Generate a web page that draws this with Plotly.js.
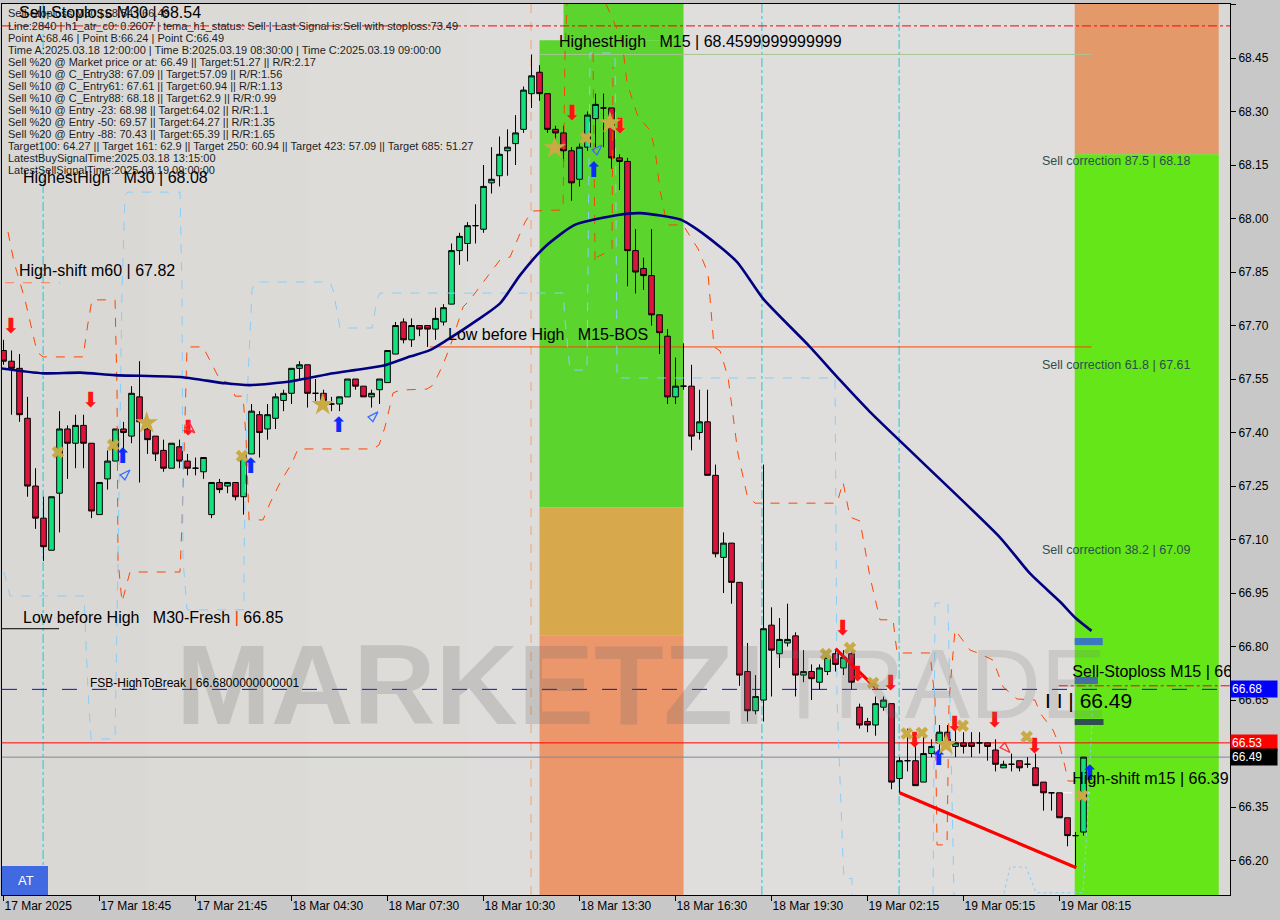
<!DOCTYPE html>
<html><head><meta charset="utf-8">
<script src="https://cdn.plot.ly/plotly-3.0.1.min.js"></script>
<style>html,body{margin:0;padding:0;background:#c8c8c8;overflow:hidden}#chart{width:1280px;height:920px}</style>
</head><body><div id="chart"></div>
<script>
// ---------- candle data (15-minute bars, index 0 = 17 Mar 15:45) ----------
const openP  = [67.63,67.60,67.58,67.44,67.25,67.16,67.07,67.23,67.41,67.37,67.42,67.37,67.17,67.27,67.32,67.41,67.39,67.50,67.41,67.39,
67.35,67.30,67.36,67.32,67.30,67.29,67.17,67.26,67.25,67.26,67.22,67.34,67.45,67.41,67.44,67.49,67.51,67.58,67.59,67.51,
67.51,67.48,67.48,67.50,67.55,67.53,67.50,67.52,67.54,67.62,67.71,67.66,67.70,67.70,67.69,67.71,67.76,67.91,67.93,67.98,
67.97,68.10,68.12,68.19,68.21,68.25,68.35,68.41,68.35,68.25,68.24,68.19,68.11,68.20,68.28,68.31,68.31,68.17,68.16,67.91,
67.86,67.84,67.73,67.67,67.50,67.53,67.53,67.40,67.43,67.28,67.05,67.09,66.98,66.73,66.62,66.65,66.86,66.78,66.81,66.83,
66.72,66.73,66.70,66.73,66.78,66.74,66.78,66.63,66.59,66.58,66.63,66.64,66.43,66.48,66.48,66.42,66.50,66.53,66.56,66.52,
66.53,66.53,66.53,66.53,66.51,66.46,66.47,66.48,66.47,66.46,66.42,66.39,66.39,66.32,66.27,66.28];
const highP  = [67.66,67.63,67.62,67.50,67.30,67.22,67.22,67.46,67.42,67.45,67.45,67.37,67.26,67.35,67.41,67.43,67.53,67.60,67.43,67.39,
67.38,67.37,67.38,67.34,67.33,67.33,67.26,67.27,67.26,67.26,67.34,67.48,67.46,67.48,67.51,67.52,67.58,67.60,67.59,67.55,
67.52,67.50,67.50,67.55,67.55,67.53,67.52,67.55,67.63,67.71,67.72,67.72,67.70,67.70,67.75,67.76,67.93,67.96,67.99,68.04,
68.15,68.20,68.23,68.25,68.29,68.37,68.46,68.43,68.35,68.26,68.26,68.20,68.21,68.30,68.35,68.35,68.31,68.18,68.17,67.97,
67.89,67.97,67.73,67.69,67.61,67.65,67.59,67.52,67.52,67.31,67.12,67.09,66.98,66.81,66.72,67.31,66.91,66.88,66.92,66.84,
66.79,66.75,66.75,66.79,66.79,66.79,66.79,66.64,66.60,66.66,66.66,66.64,66.49,66.57,66.53,66.55,66.54,66.58,66.58,66.57,
66.56,66.56,66.56,66.53,66.54,66.48,66.50,66.48,66.49,66.50,66.42,66.39,66.39,66.32,66.28,66.49];
const lowP   = [67.59,67.45,67.43,67.22,67.13,67.04,67.07,67.12,67.27,67.30,67.30,67.16,67.17,67.24,67.32,67.35,67.37,67.26,67.34,67.32,
67.29,67.30,67.30,67.28,67.28,67.27,67.16,67.23,67.23,67.21,67.17,67.34,67.33,67.38,67.41,67.46,67.48,67.55,67.47,67.48,
67.48,67.46,67.46,67.50,67.52,67.50,67.47,67.48,67.54,67.62,67.65,67.64,67.67,67.64,67.66,67.70,67.76,67.87,67.88,67.93,
67.96,68.07,68.09,68.12,68.15,68.24,68.31,68.33,68.24,68.20,68.16,68.05,68.09,68.19,68.20,68.20,68.14,68.08,67.81,67.79,
67.80,67.70,67.62,67.48,67.48,67.52,67.35,67.38,67.28,67.05,66.95,66.92,66.69,66.59,66.61,66.59,66.66,66.74,66.80,66.66,
66.70,66.65,66.68,66.72,66.73,66.72,66.68,66.57,66.56,66.55,66.62,66.40,66.39,66.45,66.41,66.42,66.49,66.51,66.51,66.49,
66.50,66.49,66.50,66.48,66.45,66.46,66.45,66.45,66.46,66.41,66.34,66.34,66.32,66.24,66.18,66.27];
const closeP = [67.60,67.58,67.45,67.25,67.16,67.08,67.22,67.41,67.37,67.42,67.37,67.18,67.26,67.32,67.41,67.40,67.51,67.43,67.38,67.34,
67.30,67.37,67.32,67.30,67.30,67.33,67.26,67.24,67.26,67.22,67.34,67.46,67.40,67.45,67.50,67.51,67.58,67.59,67.51,67.51,
67.49,67.48,67.50,67.55,67.53,67.50,67.51,67.55,67.63,67.70,67.66,67.70,67.69,67.69,67.72,67.75,67.91,67.95,67.98,67.98,
68.09,68.11,68.18,68.20,68.24,68.36,68.40,68.35,68.25,68.24,68.19,68.10,68.20,68.29,68.32,68.31,68.17,68.16,67.91,67.85,
67.84,67.73,67.68,67.50,67.53,67.53,67.39,67.43,67.28,67.06,67.09,66.98,66.72,66.62,66.66,66.85,66.79,66.82,66.82,66.72,
66.73,66.71,66.74,66.77,66.75,66.77,66.70,66.58,66.58,66.64,66.65,66.42,66.48,66.48,66.41,66.50,66.52,66.56,66.53,66.53,
66.52,66.52,66.53,66.52,66.47,66.47,66.47,66.46,66.47,66.41,66.39,66.39,66.32,66.27,66.27,66.49];

const tickBars   = [0,12,24,36,48,60,72,84,96,108,120,132];
const tickLabels = ["17 Mar 2025","17 Mar 18:45","17 Mar 21:45","18 Mar 04:30","18 Mar 07:30","18 Mar 10:30",
                    "18 Mar 13:30","18 Mar 16:30","18 Mar 19:30","19 Mar 02:15","19 Mar 05:15","19 Mar 08:15"];
const priceTicks = [66.20,66.35,66.50,66.65,66.80,66.95,67.10,67.25,67.40,67.55,67.70,67.85,68.00,68.15,68.30,68.45,68.60];

// ---------- moving average (navy) ----------
const maBar   = [-0.4,4.9,9.6,13.9,22.4,27.7,30.8,35.8,41.2,43.9,47.4,50.8,53.3,55.4,59.2,62.1,64.6,67.7,71.4,76.8,79.6,84.6,87.9,91.7,95.0,100.6,104.6,108.3,114.6,124.6,128.3,132.1,134.0,136.0];
const maPrice = [67.580,67.566,67.568,67.561,67.555,67.538,67.533,67.543,67.566,67.575,67.587,67.613,67.631,67.659,67.715,67.763,67.842,67.921,67.982,68.010,68.015,67.997,67.950,67.878,67.774,67.645,67.546,67.458,67.322,67.105,67.005,66.925,66.880,66.844];

// ---------- orange dashed envelope ----------
const orABar = [0.56,1.31,2.69,4.19,4.94,9.94,10.56,11.06,13.94,14.19,14.31,14.81,15.81,22.06,22.31,22.94,24.94,26.19,27.06,28.31,28.56,28.94,29.94,30.31,30.69,32.44,33.31,34.56,36.06,36.81,46.19,46.94,47.69,48.69,49.56,52.94,53.69,54.81,55.81,57.44,58.31,60.81,62.06,63.31,64.31,65.19,66.06,69.94,70.19,70.44];
const orAPrice = [67.962,67.878,67.772,67.626,67.612,67.612,67.707,67.772,67.772,67.519,67.043,66.925,67.009,67.009,67.146,67.640,67.640,67.584,67.547,67.539,67.528,67.502,67.502,67.388,67.155,67.155,67.202,67.259,67.315,67.354,67.354,67.365,67.416,67.511,67.519,67.522,67.533,67.584,67.640,67.752,67.772,67.847,67.884,67.892,67.945,67.990,68.021,68.024,68.472,68.601];
const orBBar = [75.31,77.31,77.94,79.31,80.81,81.44,82.06,82.94,84.94,86.81,88.06,88.81,89.56,90.56,91.81,92.94,93.94,104.19,104.94,105.81,107.06,108.31,109.56,111.19,111.69,115.81,116.44,116.69,117.94,118.19,118.94,120.81,121.81,123.69,124.94,126.69,128.94,129.56,131.19,132.06,132.69,133.06,134.19];
const orBPrice = [68.601,68.500,68.380,68.285,68.248,68.192,68.080,67.982,67.982,67.915,67.847,67.640,67.629,67.556,67.340,67.225,67.202,67.202,67.261,67.163,67.152,66.995,66.875,66.875,66.782,66.782,66.650,66.244,66.244,66.650,66.847,66.790,66.782,66.762,66.687,66.653,66.650,66.614,66.566,66.519,66.463,66.423,66.423];
const orCBar = [73.69,73.94,74.19,76.06,76.19];
const orCPrice = [68.464,67.875,67.892,67.912,68.425];
const hsM60Bar = [0.19,7.06];

// ---------- light-blue dashed steps ----------
const lbABar = [0.06,0.81,10.06,10.56,10.94,13.94,14.31,14.81,15.19,15.56,22.06,22.31,22.44,22.94,30.06,30.06,30.44,31.06,31.44,40.81,41.19,41.81,42.06,46.06,46.69,47.06,69.94,70.19,70.81,72.94,73.31,76.44,76.69,103.94,104.19,104.94,105.06,106.06,106.06];
const lbAPrice = [67.009,66.942,66.942,66.678,66.541,66.541,67.043,67.800,68.066,68.074,68.074,67.800,67.043,66.903,66.903,67.043,67.491,67.800,67.822,67.822,67.800,67.716,67.693,67.693,67.772,67.791,67.791,67.716,67.575,67.575,68.464,68.464,67.553,67.553,66.650,66.201,66.150,66.150,66.103];
const lbCBar = [116.19,116.44,118.06,118.81];
const lbCPrice = [66.103,66.922,66.922,66.103];
const lbDBar = [125.06,125.81,127.81,129.06,134.94,135.44,136.06,136.06];
const lbDPrice = [66.108,66.182,66.182,66.110,66.110,66.291,66.592,66.633];

// ---------- trend lines (thick red) ----------
const trend1Bar = [112,134.1], trend1Price = [66.39,66.18];
const trend2Bar = [104,109.2], trend2Price = [66.794,66.68];

// ---------- signal markers ----------
const sellBar = [0.94,10.9,23.1,71.1,77.1,104.9,106.8,110.9,113.9,118.9,123.9,128.9];
const sellPrice = [67.693,67.486,67.407,68.290,68.254,66.847,66.718,66.692,66.533,66.578,66.589,66.517];
const buyBar = [14.9,30.9,41.9,73.8,116.9,135.8];
const buyPrice = [67.329,67.301,67.416,68.130,66.482,66.440];
const hollowBuyBar = [15.8,46.8,74.8];
const hollowBuyPrice = [67.295,67.458,68.206];
const hollowSellBar = [23.9,125.8];
const hollowSellPrice = [67.399,66.503];
const starBar = [17.9,39.9,68.9,75.8,117.8];
const starPrice = [67.427,67.478,68.198,68.268,66.525];
const crossBar = [6.8,13.7,29.8,72.8,102.8,105.8,108.7,112.9,114.8,119.9,127.9,134.8];
const crossPrice = [67.345,67.365,67.334,68.226,66.779,66.796,66.698,66.556,66.558,66.578,66.547,66.382];

// ---------- levels ----------
const stoplossM30 = 68.54, highestHighM15 = 68.46, lowBeforeHighBOS = 67.64, highShiftM60 = 67.82;
const lowBeforeHighFresh = 66.85, fsbHighToBreak = 66.68, stoplossM15 = 66.69, highShiftM15 = 66.39;
const sellLevel = 66.53, lastPrice = 66.49;
const zoneLeftBars = [67, 70, 85];
const zoneLeftPrices = [68.50, 67.19, 66.83];
const zoneRightBars = [133.9, 151.9];
const zoneRightSplit = 68.18;
const cyanVerticalBars = [4.95, 94.8, 111.95];
const salmonVerticalBar = 65.94;

// ---------- layout helpers ----------
const Y0 = 66.1035, Y1 = 68.6014, X0 = -0.19, X1 = 153.31;
const PL = 2, PW = 1228, PT = 4, PH = 891;
const px = x => (x - PL) / PW;
const py = y => (PT + PH - y) / PH;
const FONT = 'Liberation Sans, Arial, sans-serif';
const xIdx = openP.map((_, i) => i);

const traces = [];
const dashLine = (xs, ys, color, dash, w) => ({type:'scatter', mode:'lines', x:xs, y:ys, line:{color, width:w||1, dash:dash||'dash'}, hoverinfo:'skip'});
traces.push(dashLine(orABar, orAPrice, '#ff4500', 'dash'));
traces.push(dashLine(orBBar, orBPrice, '#ff4500', 'dash'));
traces.push(dashLine(orCBar, orCPrice, '#ff4500', 'dash'));
traces.push(dashLine(hsM60Bar, [highShiftM60, highShiftM60], '#ff7f50', 'dash'));
traces.push(dashLine(lbABar, lbAPrice, '#87cefa', 'dash'));
traces.push(dashLine(lbCBar, lbCPrice, '#87cefa', 'dash'));
traces.push(dashLine(lbDBar, lbDPrice, '#87cefa', 'dot'));
traces.push({type:'scatter', mode:'lines', x:maBar, y:maPrice, line:{color:'#000080', width:2.6, shape:'spline', smoothing:0.6}, hoverinfo:'skip'});
traces.push({type:'candlestick', x:xIdx, open:openP, high:highP, low:lowP, close:closeP,
  increasing:{line:{color:'#000000', width:1}, fillcolor:'#14e07c'},
  decreasing:{line:{color:'#000000', width:1}, fillcolor:'#dc143c'},
  whiskerwidth:0, hoverinfo:'skip'});
traces.push({type:'scatter', mode:'lines', x:trend1Bar, y:trend1Price, line:{color:'#ff0000', width:3.2}, hoverinfo:'skip'});
traces.push({type:'scatter', mode:'lines', x:trend2Bar, y:trend2Price, line:{color:'#ff0000', width:3.2}, hoverinfo:'skip'});
const glyphs = (xs, ys, ch, color, size) => ({type:'scatter', mode:'text', x:xs, y:ys, text:xs.map(() => ch), textposition:'middle center',
  textfont:{family:'DejaVu Sans, sans-serif', size, color}, cliponaxis:false, hoverinfo:'skip'});
traces.push(glyphs(sellBar, sellPrice, '\u2B07', '#ff1414', 21));
traces.push(glyphs(buyBar, buyPrice, '\u2B06', '#0a2cff', 21));
traces.push({type:'scatter', mode:'markers', x:hollowBuyBar, y:hollowBuyPrice, marker:{symbol:'arrow-open', size:11, angle:45, color:'#3a6fff', line:{width:1.3, color:'#3a6fff'}}, hoverinfo:'skip'});
traces.push({type:'scatter', mode:'markers', x:hollowSellBar, y:hollowSellPrice, marker:{symbol:'arrow-open', size:11, angle:135, color:'#ff3030', line:{width:1.3, color:'#ff3030'}}, hoverinfo:'skip'});
traces.push({type:'scatter', mode:'markers', x:starBar, y:starPrice, marker:{symbol:'star', size:17, color:'#c9aa45', line:{width:0}}, hoverinfo:'skip'});
traces.push({type:'scatter', mode:'markers', x:crossBar, y:crossPrice, marker:{symbol:'x', size:11, color:'#c9aa45', line:{width:0}}, hoverinfo:'skip'});
traces.push({type:'scatter', mode:'text', x:[133.6, 133.6], y:[stoplossM15 + 0.036, highShiftM15 + 0.036],
  text:['Sell-Stoploss M15 | 66.69', 'High-shift m15 | 66.39'], textposition:'middle right',
  textfont:{family:FONT, size:16, color:'#000'}, cliponaxis:true, hoverinfo:'skip'});

const shapes = [];
const rect = (x0, x1, y0, y1, color, layer) => ({type:'rect', xref:'x', yref:'y', x0, x1, y0, y1, fillcolor:color, line:{width:0}, layer:layer||'below'});
// soft background gradient (lighter toward the middle/right)
[18, 38, 58, 78].forEach(b => shapes.push({type:'rect', xref:'x', yref:'paper', x0:b, x1:134, y0:0, y1:1,
  fillcolor:'rgba(255,255,255,0.055)', line:{width:0}, layer:'below'}));
shapes.push(rect(zoneLeftBars[1], zoneLeftBars[2], zoneLeftPrices[0], Y1, '#5bd42e'));
shapes.push(rect(zoneLeftBars[0], zoneLeftBars[2], zoneLeftPrices[1], zoneLeftPrices[0], '#5bd42e'));
shapes.push(rect(zoneLeftBars[0], zoneLeftBars[2], zoneLeftPrices[2], zoneLeftPrices[1], '#d8a84c'));
shapes.push(rect(zoneLeftBars[0], zoneLeftBars[2], Y0, zoneLeftPrices[2], '#ec966b'));
shapes.push(rect(zoneRightBars[0], zoneRightBars[1], zoneRightSplit, Y1, '#e3996a'));
shapes.push(rect(zoneRightBars[0], zoneRightBars[1], Y0, zoneRightSplit, '#64e619'));
const vline = (x, color, dash) => ({type:'line', xref:'x', yref:'y', x0:x, x1:x, y0:Y0, y1:Y1, line:{color, width:1, dash}, layer:'below'});
cyanVerticalBars.forEach(b => shapes.push(vline(b, '#20c8d8', 'dashdot')));
shapes.push(vline(salmonVerticalBar, '#f4a070', 'dash'));
const hline = (x0, x1, y, color, dash, w) => ({type:'line', xref:'x', yref:'y', x0, x1, y0:y, y1:y, line:{color, width:w||1, dash:dash||'solid'}, layer:'below'});
shapes.push(hline(X0, X1, stoplossM30, '#ff0000', 'dashdot'));
shapes.push(hline(67, 136, highestHighM15, '#a6c594'));
shapes.push(hline(53.3, 136, lowBeforeHighBOS, '#ff4500'));
shapes.push(hline(X0, 6.94, lowBeforeHighFresh, '#000000'));
shapes.push(hline(X0, X1, fsbHighToBreak, '#0018d0', 'longdash'));
shapes.push(hline(131.9, X1, stoplossM15, '#ff0000', 'dashdot'));
shapes.push(hline(X0, X1, sellLevel, '#ff0000'));
shapes.push(hline(X0, X1, lastPrice, '#778899'));
shapes.push(hline(132.4, 136, highShiftM15, '#ffffff', 'dash'));
shapes.push(rect(133.9, 137.4, 66.804, 66.824, '#3a78c0', 'above'));
shapes.push(rect(133.9, 136.8, 66.695, 66.715, '#3d6fa8', 'above'));
shapes.push(rect(133.9, 137.5, 66.580, 66.597, '#2f4f4f', 'above'));
shapes.push({type:'rect', xref:'paper', yref:'paper', x0:0, x1:px(48), y0:0, y1:py(866), fillcolor:'#4169e1', line:{width:0}, layer:'above'});

const ann = [];
const txt = (x, y, text, size, color, extra) => Object.assign({xref:'paper', yref:'paper', x:px(x), y:py(y), xanchor:'left', yanchor:'middle',
  text, showarrow:false, font:{family:FONT, size, color}}, extra||{});
const sp = '\u00a0';
// watermark
ann.push(txt(174, 684, '<b>MARKETZI</b>', 114, 'rgba(105,105,105,0.22)'));
ann.push(txt(772, 684, 'TRADE', 98, 'rgba(120,120,120,0.20)'));
// info block
const info = [
 'Line:2840 | h1_atr_c0: 0.2607 | tema_h1_status: Sell | Last Signal is:Sell with stoploss:73.49',
 'Point A:68.46 | Point B:66.24 | Point C:66.49',
 'Time A:2025.03.18 12:00:00 | Time B:2025.03.19 08:30:00 | Time C:2025.03.19 09:00:00',
 'Sell %20 @ Market price or at: 66.49 || Target:51.27 || R/R:2.17',
 'Sell %10 @ C_Entry38: 67.09 || Target:57.09 || R/R:1.56',
 'Sell %10 @ C_Entry61: 67.61 || Target:60.94 || R/R:1.13',
 'Sell %10 @ C_Entry88: 68.18 || Target:62.9 || R/R:0.99',
 'Sell %10 @ Entry -23: 68.98 || Target:64.02 || R/R:1.1',
 'Sell %20 @ Entry -50: 69.57 || Target:64.27 || R/R:1.35',
 'Sell %20 @ Entry -88: 70.43 || Target:65.39 || R/R:1.65',
 'Target100: 64.27 || Target 161: 62.9 || Target 250: 60.94 || Target 423: 57.09 || Target 685: 51.27',
 'LatestBuySignalTime:2025.03.18 13:15:00',
 'LatestSellSignalTime:2025.03.19 09:00:00'];
info.forEach((t, k) => ann.push(txt(6, 25.7 + 12 * k, t, 11, '#1e1e1e')));
ann.push(txt(6, 12.5, 'Sell-Stoploss M30 | 68.54 | 66.49', 11, '#1e1e1e'));
ann.push(txt(17, 13, 'Sell-Stoploss M30 | 68.54', 16, '#000'));
ann.push(txt(21, 177, 'HighestHigh' + sp+sp+sp + 'M30 | 68.08', 16, '#000'));
ann.push(txt(557, 41, 'HighestHigh' + sp+sp+sp + 'M15 | 68.4599999999999', 16, '#000'));
ann.push(txt(17, 270, 'High-shift m60 | 67.82', 16, '#000'));
ann.push(txt(446, 334, 'Low before High' + sp+sp+sp + 'M15-BOS', 16, '#000'));
ann.push(txt(21, 617, 'Low before High' + sp+sp+sp + 'M30-Fresh <span style="color:#ff3300">|</span> 66.85', 16, '#000'));
ann.push(txt(88, 683, 'FSB-HighToBreak | 66.6800000000001', 12, '#000'));
ann.push(txt(1040, 161, 'Sell correction 87.5 | 68.18', 12.5, '#2f4f4f'));
ann.push(txt(1040, 365, 'Sell correction 61.8 | 67.61', 12.5, '#2f4f4f'));
ann.push(txt(1040, 550, 'Sell correction 38.2 | 67.09', 12.5, '#2f4f4f'));
ann.push(txt(1043, 700, 'I I | 66.49', 21, '#000'));
ann.push(txt(16, 880, 'AT', 13, '#ffffff'));
const tag = (y, text, bg) => ({xref:'paper', yref:'y', x:1, y, xanchor:'left', yanchor:'middle', text, showarrow:false,
  bgcolor:bg, borderpad:1, width:44, align:'left', font:{family:FONT, size:12, color:'#ffffff'}});
ann.push(tag(fsbHighToBreak, '66.68', '#0000ff'));
ann.push(tag(sellLevel, '66.53', '#ff0000'));
ann.push(tag(lastPrice, '66.49', '#000000'));

const layout = {
  width:1280, height:920, margin:{l:PL, r:1280 - PL - PW, t:PT, b:920 - PT - PH},
  paper_bgcolor:'#c8c8c8', plot_bgcolor:'#dad8d5', showlegend:false, hovermode:false, dragmode:false,
  boxgap:0.2, boxgroupgap:0.12,
  xaxis:{range:[X0, X1], type:'linear', tickmode:'array', tickvals:tickBars, ticktext:tickLabels,
    ticks:'outside', ticklen:5, tickcolor:'#000', showgrid:false, zeroline:false, showline:true, linecolor:'#000', linewidth:1, mirror:true,
    ticklabelposition:'outside right', tickfont:{family:FONT, size:12, color:'#000'}, rangeslider:{visible:false}, fixedrange:true},
  yaxis:{range:[Y0, Y1], side:'right', tickmode:'array', tickvals:priceTicks, ticktext:priceTicks.map(v => v.toFixed(2)),
    ticks:'outside', ticklen:5, tickcolor:'#000', showgrid:false, zeroline:false, showline:true, linecolor:'#000', linewidth:1, mirror:true,
    tickfont:{family:FONT, size:12, color:'#000'}, fixedrange:true},
  shapes, annotations:ann
};
Plotly.newPlot('chart', traces, layout, {staticPlot:true, displayModeBar:false});
</script></body></html>
